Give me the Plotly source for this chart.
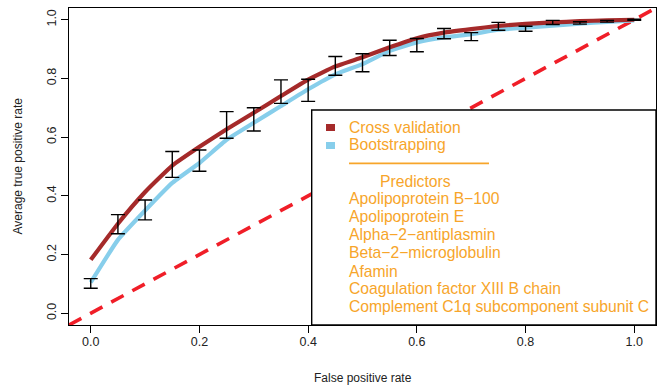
import plotly.graph_objects as go

# ---- data ----
fpr = [0.0, 0.05, 0.10, 0.15, 0.20, 0.25, 0.30, 0.35, 0.40, 0.45, 0.50,
       0.55, 0.60, 0.65, 0.70, 0.75, 0.80, 0.85, 0.90, 0.95, 1.0]
cv_tpr = [0.182, 0.305, 0.413, 0.503, 0.567, 0.627, 0.683, 0.740, 0.796, 0.841, 0.872,
          0.906, 0.937, 0.956, 0.968, 0.979, 0.986, 0.991, 0.995, 0.998, 1.0]
boot_tpr = [0.105, 0.250, 0.350, 0.444, 0.512, 0.591, 0.649, 0.706, 0.763, 0.814, 0.849,
            0.894, 0.923, 0.940, 0.951, 0.966, 0.973, 0.980, 0.987, 0.993, 0.998]
bar_lo = [0.085, 0.271, 0.318, 0.463, 0.484, 0.596, 0.621, 0.715, 0.722, 0.811, 0.823,
          0.878, 0.891, 0.935, 0.929, 0.964, 0.961, 0.984, 0.985, 0.992, 0.998]
bar_hi = [0.118, 0.336, 0.386, 0.551, 0.556, 0.687, 0.700, 0.795, 0.797, 0.875, 0.884,
          0.930, 0.936, 0.970, 0.956, 0.991, 0.978, 0.998, 0.993, 0.998, 1.002]
diag = [-0.04, 1.04]
xticks = [0.0, 0.2, 0.4, 0.6, 0.8, 1.0]
yticks = [0.0, 0.2, 0.4, 0.6, 0.8, 1.0]
tick_text = ["0.0", "0.2", "0.4", "0.6", "0.8", "1.0"]
legend_series = ["Cross validation", "Bootstrapping"]
predictors = ["Apolipoprotein B\u2212100", "Apolipoprotein E", "Alpha\u22122\u2212antiplasmin",
              "Beta\u22122\u2212microglobulin", "Afamin", "Coagulation factor XIII B chain",
              "Complement C1q subcomponent subunit C"]

RED = "#A52A2A"
BLUE = "#87CEEB"
ORANGE = "#F7A52A"
FONT = "Liberation Sans, Arial, sans-serif"

W, H = 658, 386
ML, MR, MT, MB = 69, 2, 8, 61
PW, PH = W - ML - MR, H - MT - MB

def px(xp):  # pixel x -> paper
    return (xp - ML) / PW

def py(yp):  # pixel y -> paper
    return (H - MB - yp) / PH

fig = go.Figure()
fig.add_trace(go.Scatter(x=diag, y=diag, mode="lines",
                         line=dict(color="#F01E28", width=3.6, dash="14px,10px"),
                         hoverinfo="skip", showlegend=False))
fig.add_trace(go.Scatter(x=fpr, y=boot_tpr, mode="lines",
                         line=dict(color=BLUE, width=4.2, shape="spline", smoothing=0.4),
                         showlegend=False))
fig.add_trace(go.Scatter(x=fpr, y=cv_tpr, mode="lines",
                         line=dict(color=RED, width=4.2, shape="spline", smoothing=0.4),
                         showlegend=False))
mid = [(a + b) / 2 for a, b in zip(bar_lo, bar_hi)]
half = [(b - a) / 2 for a, b in zip(bar_lo, bar_hi)]
fig.add_trace(go.Scatter(x=fpr, y=mid, mode="markers", marker=dict(size=0.1, opacity=0),
                         error_y=dict(type="data", array=half, symmetric=True,
                                      color="black", thickness=1.4, width=7),
                         showlegend=False))

shapes = []
# legend box
shapes.append(dict(type="rect", xref="paper", yref="paper", x0=px(311.7), x1=1.0,
                   y0=0.0, y1=py(110), fillcolor="white",
                   line=dict(color="black", width=1.4), layer="above"))
sq_y = [127.5, 145.5]
sq_col = [RED, BLUE]
for yy, cc in zip(sq_y, sq_col):
    shapes.append(dict(type="rect", xref="paper", yref="paper", x0=px(326), x1=px(335),
                       y0=py(yy + 3.5), y1=py(yy - 3.5), fillcolor=cc,
                       line=dict(width=0), layer="above"))
shapes.append(dict(type="line", xref="paper", yref="paper", x0=px(349), x1=px(489),
                   y0=py(163.3), y1=py(163.3), line=dict(color=ORANGE, width=1.8),
                   layer="above"))

FS = 15.7
annotations = []
for txt, yy in zip(legend_series, [127.5, 144.5]):
    annotations.append(dict(text=txt, xref="paper", yref="paper", x=px(347), y=py(yy),
                            xanchor="left", yanchor="middle", showarrow=False,
                            font=dict(color=ORANGE, size=FS, family=FONT)))
annotations.append(dict(text="Predictors", xref="paper", yref="paper", x=px(415), y=py(182),
                        xanchor="center", yanchor="middle", showarrow=False,
                        font=dict(color=ORANGE, size=FS, family=FONT)))
pred_y = [198, 216.5, 234, 252, 271.5, 288.5, 306]
for txt, yy in zip(predictors, pred_y):
    annotations.append(dict(text=txt, xref="paper", yref="paper", x=px(347), y=py(yy),
                            xanchor="left", yanchor="middle", showarrow=False,
                            font=dict(color=ORANGE, size=FS, family=FONT)))
# axis titles
annotations.append(dict(text="False positive rate", xref="paper", yref="paper",
                        x=0.5, y=py(378), xanchor="center", yanchor="middle",
                        showarrow=False, font=dict(color="#222", size=12, family=FONT)))
annotations.append(dict(text="Average true positive rate", xref="paper", yref="paper",
                        x=px(17), y=0.5, xanchor="center", yanchor="middle", textangle=-90,
                        showarrow=False, font=dict(color="#222", size=12, family=FONT)))

axis_common = dict(showgrid=False, zeroline=False, showline=True, mirror=True,
                   linecolor="black", linewidth=1.4, ticks="outside", ticklen=7,
                   tickwidth=1.3, tickcolor="black",
                   tickfont=dict(size=12.5, color="#222", family=FONT))

fig.update_layout(
    width=W, height=H, margin=dict(l=ML, r=MR, t=MT, b=MB),
    paper_bgcolor="white", plot_bgcolor="white",
    shapes=shapes, annotations=annotations, showlegend=False,
    xaxis=dict(range=[-0.04, 1.04], tickvals=xticks, ticktext=tick_text,
               ticklabelstandoff=-2, **axis_common),
    yaxis=dict(range=[-0.04, 1.04], tickvals=yticks, ticktext=tick_text, tickangle=-90,
               **axis_common),
)
fig.write_html("out.html")
